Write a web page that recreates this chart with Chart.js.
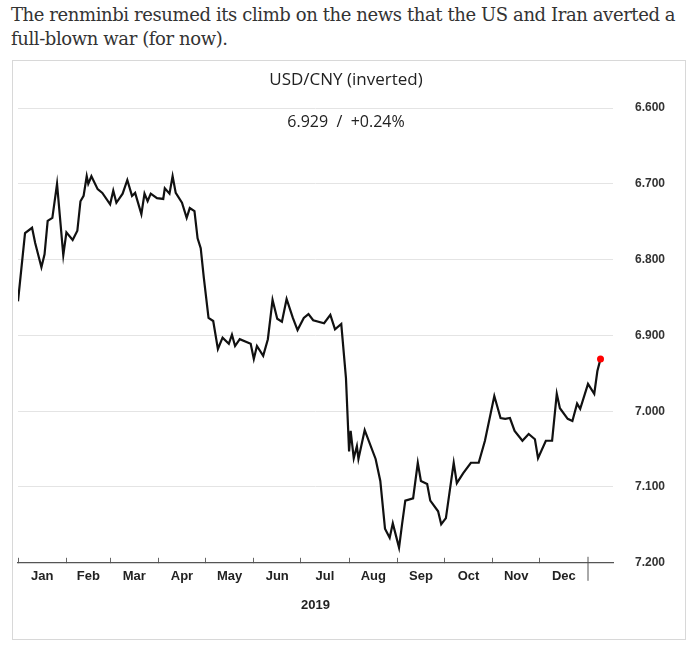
<!DOCTYPE html>
<html>
<head>
<meta charset="utf-8">
<script src="https://cdn.jsdelivr.net/npm/chart.js@4"></script>
<style>
  body { margin: 0; background: #fff; width: 695px; height: 652px; position: relative; overflow: hidden; }
  .cap { position: absolute; left: 11px; top: 3px; width: 672px; font: 18px/24px "DejaVu Serif", serif; color: #333; letter-spacing: -0.4px; }
  .box { position: absolute; left: 12px; top: 60px; width: 672px; height: 578px; border: 1px solid #d8d8d8; }
  canvas { display: block; }
</style>
</head>
<body>
<div class="cap">The renminbi resumed its climb on the news that the US and Iran averted a full-blown war (for now).</div>
<div class="box"><canvas id="c" width="672" height="578"></canvas></div>
<script>
// day of 2019 (0 = Jan 1) and USD/CNY level
const days = [0, 4.5, 9, 11, 15, 17, 19, 22, 25, 29, 31, 35, 38, 40, 42, 44, 45, 47, 51, 54, 59, 61, 63, 67, 70, 73, 75, 79, 81, 83, 85, 89, 93, 94, 97, 99, 101, 105, 108, 110, 113, 115, 117, 119, 122, 125, 128, 131, 135, 137, 139, 142, 149, 151, 153, 157, 160, 163, 166, 169, 172, 176, 179, 183, 186, 189, 196, 200, 203, 207, 210, 212, 213, 215, 217, 218, 222, 229, 232, 235, 238, 240, 244, 246, 248, 253, 256, 258, 262, 264, 269, 271, 274, 279, 281, 285, 290, 295, 299, 305, 309, 312, 315, 318, 323, 327, 331, 333, 338, 342, 345, 347, 352, 355, 358, 360, 365, 369, 371, 373];
const rates = [6.855, 6.765, 6.758, 6.778, 6.810, 6.793, 6.749, 6.745, 6.700, 6.794, 6.764, 6.774, 6.762, 6.723, 6.716, 6.690, 6.700, 6.690, 6.707, 6.712, 6.727, 6.709, 6.725, 6.713, 6.695, 6.716, 6.712, 6.740, 6.713, 6.723, 6.713, 6.719, 6.720, 6.706, 6.713, 6.690, 6.712, 6.725, 6.745, 6.732, 6.736, 6.772, 6.785, 6.824, 6.877, 6.881, 6.918, 6.903, 6.911, 6.899, 6.914, 6.905, 6.911, 6.931, 6.914, 6.927, 6.905, 6.853, 6.878, 6.882, 6.852, 6.877, 6.893, 6.877, 6.872, 6.880, 6.884, 6.873, 6.892, 6.885, 6.956, 7.053, 7.026, 7.062, 7.046, 7.063, 7.025, 7.063, 7.092, 7.155, 7.167, 7.148, 7.180, 7.148, 7.118, 7.115, 7.068, 7.092, 7.096, 7.118, 7.132, 7.149, 7.141, 7.068, 7.095, 7.082, 7.068, 7.068, 7.039, 6.980, 7.009, 7.010, 7.009, 7.026, 7.039, 7.030, 7.037, 7.062, 7.039, 7.039, 6.977, 6.996, 7.010, 7.013, 6.990, 6.997, 6.964, 6.977, 6.947, 6.931];
const monthStarts = [0, 31, 59, 90, 120, 151, 181, 212, 243, 273, 304, 334, 365];
const monthNames = ['Jan', 'Feb', 'Mar', 'Apr', 'May', 'Jun', 'Jul', 'Aug', 'Sep', 'Oct', 'Nov', 'Dec'];
const yTicks = [6.6, 6.7, 6.8, 6.9, 7.0, 7.1, 7.2];

const monthMids = monthNames.map((m, i) => (monthStarts[i] + monthStarts[i + 1]) / 2);
const lastIdx = rates.length - 1;
const axisFont = {family: 'Liberation Sans, Arial', size: 12, weight: 'bold'};
const xFont = {family: 'Liberation Sans, Arial', size: 13, weight: 'bold'};

const headers = {
    id: 'headers',
    afterDraw(chart) {
        const ctx = chart.ctx;
        ctx.save();
        ctx.fillStyle = '#222';
        ctx.textAlign = 'center';
        ctx.font = '17px "Open Sans", sans-serif';
        ctx.fillText('USD/CNY (inverted)', 333, 24);
        ctx.font = '16px "Open Sans", sans-serif';
        ctx.fillText('6.929  /  +0.24%', 333, 66);
        // year-end marker under the axis
        const x = chart.scales.x.getPixelForValue(365);
        const y = chart.scales.y.bottom;
        ctx.strokeStyle = '#555';
        ctx.lineWidth = 1;
        ctx.beginPath();
        ctx.moveTo(x, y - 6);
        ctx.lineTo(x, y + 18);
        ctx.stroke();
        ctx.restore();
    }
};

new Chart(document.getElementById('c'), {
    type: 'line',
    data: {
        datasets: [{
            data: days.map((d, i) => ({x: d, y: rates[i]})),
            borderColor: '#111',
            borderWidth: 2.2,
            tension: 0,
            pointRadius: ctx => ctx.dataIndex === lastIdx ? 3.5 : 0,
            pointBackgroundColor: '#f00',
            pointBorderWidth: 0,
        }]
    },
    options: {
        responsive: false,
        animation: false,
        layout: {padding: {top: 47, left: 5, right: 0, bottom: 17}},
        plugins: {legend: {display: false}, tooltip: {enabled: false}},
        scales: {
            y: {
                position: 'right', reverse: true, min: 6.6, max: 7.2,
                afterBuildTicks: s => { s.ticks = yTicks.map(v => ({value: v})); },
                afterFit: s => { s.width = 72; },
                grid: {color: '#e4e4e4', tickLength: 0},
                border: {display: false},
                ticks: {color: '#333', font: axisFont, padding: 22, callback: v => v.toFixed(3)}
            },
            x: {
                type: 'linear', min: 0, max: 381,
                afterBuildTicks: s => { s.ticks = monthStarts.slice(0, 12).map(v => ({value: v})); },
                grid: {drawOnChartArea: false, tickLength: -5, color: '#666'},
                border: {color: '#555', width: 1.2},
                ticks: {display: false}
            },
            x2: {
                type: 'linear', min: 0, max: 381, position: 'bottom',
                afterBuildTicks: s => { s.ticks = monthMids.map(v => ({value: v})); },
                grid: {display: false},
                border: {display: false},
                ticks: {color: '#222', font: xFont, padding: 3, maxRotation: 0, autoSkip: false,
                    callback: (v, i) => monthNames[i]},
                title: {display: true, text: '2019', color: '#222', font: xFont, padding: {top: 10}}
            }
        }
    },
    plugins: [headers]
});
</script>
</body>
</html>
